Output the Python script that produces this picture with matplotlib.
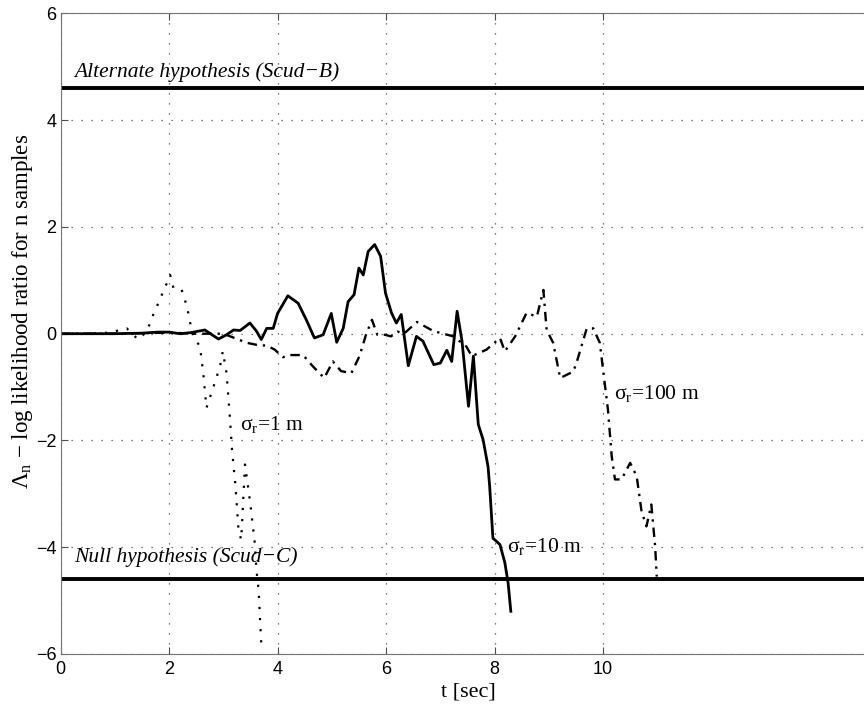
import matplotlib
matplotlib.use("Agg")
import matplotlib.pyplot as plt

plt.rcParams['mathtext.fontset'] = 'custom'
plt.rcParams['mathtext.rm'] = 'Liberation Serif'
plt.rcParams['mathtext.it'] = 'Liberation Serif:italic'

# sigma_r = 10 m (solid)
t10 = [0, 0.5, 1.0, 1.5, 1.8, 2.0, 2.2, 2.4, 2.66, 2.91, 3.06, 3.19, 3.31, 3.49, 3.61,
       3.70, 3.80, 3.92, 4.0, 4.19, 4.38, 4.53, 4.68, 4.84, 4.99, 5.09, 5.21, 5.30, 5.41,
       5.50, 5.58, 5.67, 5.79, 5.90, 5.99, 6.10, 6.19, 6.28, 6.41, 6.56, 6.68, 6.88, 7.0,
       7.12, 7.21, 7.31, 7.40, 7.52, 7.61, 7.70, 7.79, 7.88, 7.91, 7.97, 8.10, 8.19, 8.25, 8.30]
l10 = [0, 0, 0, 0.01, 0.03, 0.03, 0.0, 0.02, 0.07, -0.10, -0.02, 0.07, 0.06, 0.2, 0.05,
       -0.11, 0.1, 0.1, 0.38, 0.71, 0.57, 0.26, -0.08, -0.02, 0.38, -0.16, 0.1, 0.6, 0.73,
       1.23, 1.1, 1.54, 1.67, 1.45, 0.76, 0.39, 0.2, 0.36, -0.6, -0.05, -0.14, -0.58, -0.55,
       -0.31, -0.52, 0.42, -0.14, -1.36, -0.42, -1.70, -1.99, -2.49, -2.86, -3.83, -3.95, -4.29, -4.67, -5.2]

# sigma_r = 100 m (dash-dot)
t100 = [0, 1, 2, 2.5, 3.0, 3.13, 3.43, 3.67, 3.8, 3.95, 4.1, 4.22, 4.47, 4.65, 4.86, 5.02,
        5.17, 5.36, 5.51, 5.63, 5.74, 5.84, 5.98, 6.09, 6.21, 6.33, 6.57, 6.87, 7.24, 7.48,
        7.58, 7.85, 8.10, 8.19, 8.38, 8.59, 8.78, 8.90, 8.96, 9.08, 9.21, 9.45, 9.51, 9.70,
        9.82, 9.94, 10.03, 10.09, 10.16, 10.22, 10.34, 10.50, 10.62, 10.71, 10.80, 10.89,
        10.96, 10.99]
l100 = [0, 0, 0.02, 0.0, 0.0, -0.05, -0.17, -0.22, -0.22, -0.30, -0.44, -0.40, -0.40, -0.61,
        -0.83, -0.52, -0.70, -0.74, -0.42, -0.02, 0.26, -0.02, -0.02, -0.05, 0.04, 0.0, 0.22,
        0.05, -0.05, -0.24, -0.42, -0.3, -0.08, -0.33, -0.05, 0.39, 0.32, 0.82, 0.07, -0.17,
        -0.83, -0.71, -0.55, 0.1, 0.1, -0.17, -0.92, -1.42, -2.3, -2.73, -2.73, -2.42, -2.67,
        -3.33, -3.61, -3.20, -3.98, -4.55]

# sigma_r = 1 m (dotted)
t1 = [0, 0.5, 0.9, 1.22, 1.43, 1.59, 1.71, 1.83, 1.96, 2.02, 2.08, 2.23, 2.33, 2.39, 2.45,
      2.57, 2.63, 2.69, 2.82, 2.94, 2.99, 3.06, 3.12, 3.16, 3.22, 3.28, 3.33, 3.40, 3.50,
      3.58, 3.61, 3.65, 3.70]
l1 = [0, 0, 0.02, 0.1, -0.11, 0.04, 0.36, 0.64, 0.95, 1.1, 0.86, 0.83, 0.51, 0.2, -0.05,
      -0.24, -0.74, -1.39, -0.99, -0.61, -0.33, -0.74, -1.55, -2.17, -2.8, -3.67, -3.86,
      -2.45, -3.2, -3.92, -4.42, -4.79, -5.82]

threshold = 4.6
xticks = [0, 2, 4, 6, 8, 10]
yticks = [-6, -4, -2, 0, 2, 4, 6]

fig = plt.figure(figsize=(8.64, 7.07), dpi=100)
ax = fig.add_axes([0.0701, 0.075, 0.9418, 0.906])

ax.plot(t1, l1, color='black', lw=1.6, linestyle=(0, (1, 4)))
ax.plot(t100, l100, color='black', lw=1.7, linestyle=(0, (4, 2.5, 1, 2.5)))
ax.plot(t10, l10, color='black', lw=2.0, linestyle='-')

ax.axhline(threshold, color='black', lw=2.8)
ax.axhline(-threshold, color='black', lw=2.8)

ax.set_xlim(0, 15)
ax.set_ylim(-6, 6)
ax.set_xticks(xticks)
ax.set_yticks(yticks)
ax.grid(True, color='0.3', linestyle=(0, (1, 7)), lw=0.9)
ax.tick_params(direction='in', length=5, width=0.8, labelsize=13, top=True, right=True,
               color='0.3')
ax.tick_params(axis='x', pad=5)
ax.tick_params(axis='y', pad=3)
for lab in ax.get_xticklabels() + ax.get_yticklabels():
    lab.set_family('Liberation Sans')
for s in ax.spines.values():
    s.set_color('0.45')
    s.set_linewidth(0.8)

serif = 'Liberation Serif'
ax.text(0.25, 4.81, 'Alternate hypothesis (Scud\u2212B)', fontsize=15.5, family=serif,
        style='italic')
ax.text(0.25, -4.27, 'Null hypothesis (Scud\u2212C)', fontsize=15.5, family=serif,
        style='italic')
ax.text(3.31, -1.8, '\u03c3$_\\mathrm{r}$=1 m', fontsize=15.5, family=serif)
ax.text(8.23, -4.09, '\u03c3$_\\mathrm{r}$=10 m', fontsize=15.5, family=serif)
ax.text(10.2, -1.22, '\u03c3$_\\mathrm{r}$=100 m', fontsize=15.5, family=serif)

fig.text(0.0255, 0.56, '\u039b$_\\mathrm{n}$ \u2212 log likelihood ratio for n samples',
         rotation=90, ha='center', va='center', fontsize=16.5, family=serif)
fig.text(0.542, 0.021, 't [sec]', ha='center', va='center', fontsize=16, family=serif)

fig.savefig('out.png', dpi=100)
